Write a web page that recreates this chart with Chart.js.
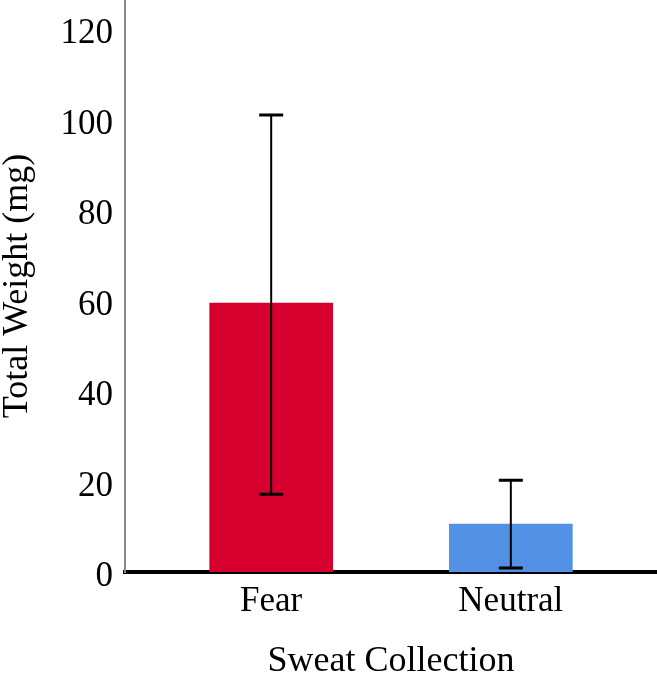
<!DOCTYPE html>
<html>
<head>
<meta charset="utf-8">
<script src="https://cdn.jsdelivr.net/npm/chart.js@4/dist/chart.umd.min.js"></script>
<style>
  html, body { margin: 0; padding: 0; background: #fff; }
  #wrap { width: 657px; height: 680px; }
</style>
</head>
<body>
<div id="wrap"><canvas id="chart" width="657" height="680"></canvas></div>
<script>
// --- Data ---
const categories = ['Fear', 'Neutral'];
const means = [59.4, 10.6];
const errLow = [17.2, 0.9];
const errHigh = [101.0, 20.3];
const yTicks = [0, 20, 40, 60, 80, 100, 120];
const barColors = ['#D6002F', '#5291E3'];

const FONT = "'Liberation Serif', 'Times New Roman', serif";

// error bars drawn on top of bars, through the chart scales
const errorBars = {
    id: 'errorBars',
    afterDatasetsDraw(chart) {
        const ctx = chart.ctx;
        const xs = chart.scales.x, ys = chart.scales.y;
        ctx.save();
        ctx.strokeStyle = '#000';
        categories.forEach((c, i) => {
            const x = xs.getPixelForValue(i + 1);
            const yl = ys.getPixelForValue(errLow[i]);
            const yh = ys.getPixelForValue(errHigh[i]);
            ctx.lineWidth = 2;
            ctx.beginPath();
            ctx.moveTo(x, yl); ctx.lineTo(x, yh);
            ctx.stroke();
            ctx.lineWidth = 3;
            ctx.beginPath();
            ctx.moveTo(x - 12, yl); ctx.lineTo(x + 12, yl);
            ctx.moveTo(x - 12, yh); ctx.lineTo(x + 12, yh);
            ctx.stroke();
        });
        ctx.restore();
    }
};

new Chart(document.getElementById('chart'), {
    type: 'bar',
    data: {
        datasets: [{
            data: categories.map((c, i) => ({ x: i + 1, y: means[i] })),
            backgroundColor: barColors,
            borderWidth: 0,
            barThickness: 123
        }]
    },
    options: {
        responsive: false,
        animation: false,
        layout: { padding: 0 },
        plugins: { legend: { display: false }, tooltip: { enabled: false } },
        scales: {
            x: {
                type: 'linear',
                min: 0.39,
                max: 2.61,
                offset: false,
                afterBuildTicks: s => { s.ticks = categories.map((c, i) => ({ value: i + 1 })); },
                afterFit: s => { s.height = 108; s.paddingLeft = 0; s.paddingRight = 0; },
                ticks: {
                    callback: v => categories[v - 1] || '',
                    color: '#000',
                    font: { family: FONT, size: 35 },
                    padding: 9,
                    maxRotation: 0,
                    autoSkip: false
                },
                grid: { display: false, drawTicks: false },
                border: { display: true, color: '#000', width: 4 },
                title: {
                    display: true,
                    text: 'Sweat Collection',
                    color: '#000',
                    font: { family: FONT, size: 36, lineHeight: 1 },
                    padding: { top: 0, bottom: 0 }
                }
            },
            y: {
                min: 0,
                max: 126.4,
                afterBuildTicks: s => { s.ticks = yTicks.map(v => ({ value: v })); },
                afterFit: s => { s.width = 125; s.paddingTop = 0; s.paddingBottom = 0; },
                ticks: {
                    color: '#000',
                    font: { family: FONT, size: 35 },
                    padding: 12,
                    labelOffset: 5
                },
                grid: { display: false, drawTicks: false },
                border: { display: true, color: '#888', width: 2 },
                title: {
                    display: true,
                    text: 'Total Weight (mg)',
                    color: '#000',
                    font: { family: FONT, size: 36, lineHeight: 1 },
                    padding: 0
                }
            }
        }
    },
    plugins: [errorBars]
});
</script>
</body>
</html>
